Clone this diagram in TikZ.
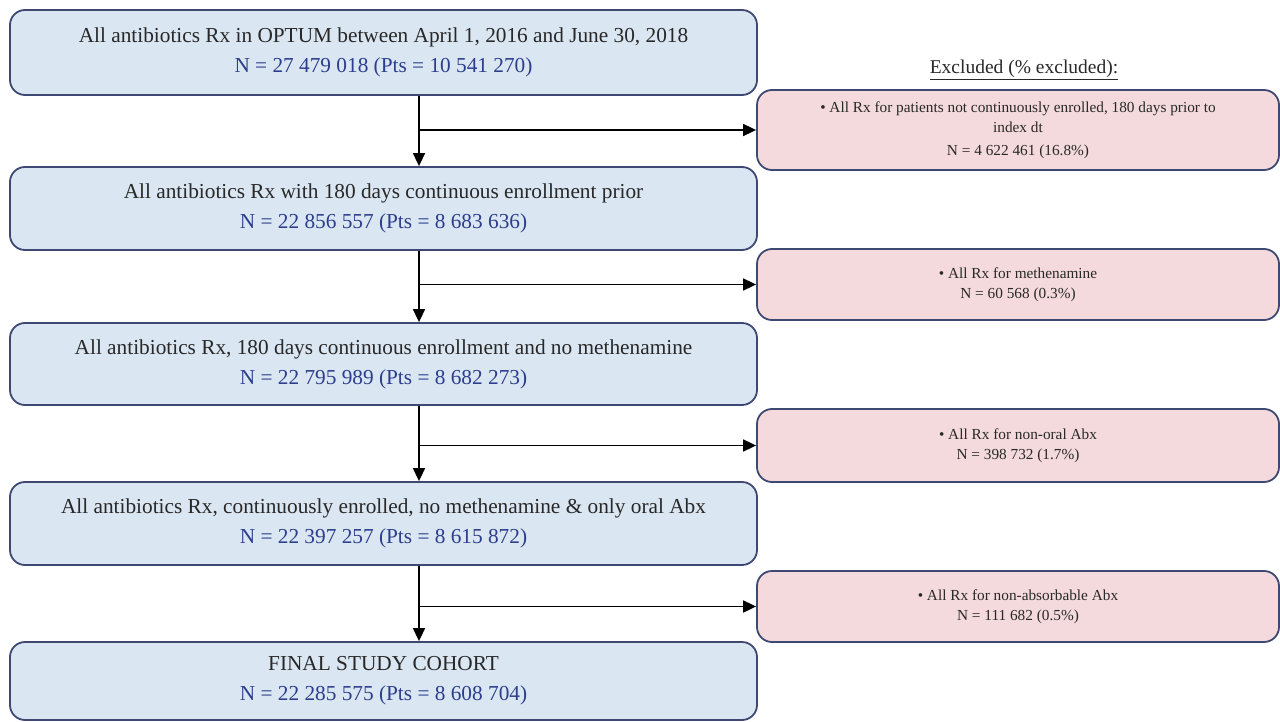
\documentclass[tikz,border=0pt]{standalone}
\usepackage{fontspec}
\setmainfont{Liberation Serif}
\usetikzlibrary{arrows.meta}
\definecolor{bluefill}{RGB}{218,230,242}
\definecolor{pinkfill}{RGB}{244,218,220}
\definecolor{edgecol}{RGB}{62,72,115}
\definecolor{ntext}{RGB}{44,62,140}
\definecolor{maintext}{RGB}{40,40,40}
\tikzset{
  mainbox/.style={draw=edgecol, line width=1.8pt, fill=bluefill, rounded corners=15pt,
    minimum width=747pt, align=center, text=maintext,
    font=\fontsize{21.3}{30}\selectfont, inner sep=0pt},
  exclbox/.style={draw=edgecol, line width=1.8pt, fill=pinkfill, rounded corners=15pt,
    minimum width=522pt, align=center, text=maintext,
    font=\fontsize{15.3}{20.5}\selectfont, inner sep=0pt},
  arr/.style={line width=1.7pt, -{Triangle[length=13pt,width=12pt]}},
}
\begin{document}
\begin{tikzpicture}[x=1pt,y=-1pt]
\useasboundingbox (0,0) rectangle (1280,722);
\node[mainbox, minimum height=85pt] (b1) at (383.5,52.5)
  {All antibiotics Rx in OPTUM between April 1, 2016 and June 30, 2018\\\textcolor{ntext}{N = 27 479 018 (Pts = 10 541 270)}};
\node[mainbox, minimum height=83pt] (b2) at (383.5,208.5)
  {All antibiotics Rx with 180 days continuous enrollment prior\\\textcolor{ntext}{N = 22 856 557 (Pts = 8 683 636)}};
\node[mainbox, minimum height=82pt] (b3) at (383.5,364)
  {All antibiotics Rx, 180 days continuous enrollment and no methenamine\\\textcolor{ntext}{N = 22 795 989 (Pts = 8 682 273)}};
\node[mainbox, minimum height=83pt] (b4) at (383.5,523.5)
  {All antibiotics Rx, continuously enrolled, no methenamine \& only oral Abx\\\textcolor{ntext}{N = 22 397 257 (Pts = 8 615 872)}};
\node[mainbox, minimum height=78pt] (b5) at (383.5,681)
  {FINAL STUDY COHORT\\\textcolor{ntext}{N = 22 285 575 (Pts = 8 608 704)}};

\node[text=maintext, font=\fontsize{19.5}{23}\selectfont] (hd) at (1024,70) {\underline{Excluded (\% excluded):}};

\node[exclbox, minimum height=80pt] (p1) at (1018,130)
  {• All Rx for patients not continuously enrolled, 180 days prior to\\index dt\\[2pt]N = 4 622 461 (16.8\%)};
\node[exclbox, minimum height=71pt] (p2) at (1018,284.5)
  {• All Rx for methenamine\\N = 60 568 (0.3\%)};
\node[exclbox, minimum height=73pt] (p3) at (1018,445.5)
  {• All Rx for non-oral Abx\\N = 398 732 (1.7\%)};
\node[exclbox, minimum height=71pt] (p4) at (1018,606.5)
  {• All Rx for non-absorbable Abx\\N = 111 682 (0.5\%)};

\coordinate (v) at (419,0);
\draw[arr] (b1.south -| v) -- (b2.north -| v);
\draw[arr] (b2.south -| v) -- (b3.north -| v);
\draw[arr] (b3.south -| v) -- (b4.north -| v);
\draw[arr] (b4.south -| v) -- (b5.north -| v);
\draw[arr] (p1.west -| v) -- (p1.west);
\draw[arr] (p2.west -| v) -- (p2.west);
\draw[arr] (p3.west -| v) -- (p3.west);
\draw[arr] (p4.west -| v) -- (p4.west);
\end{tikzpicture}
\end{document}
